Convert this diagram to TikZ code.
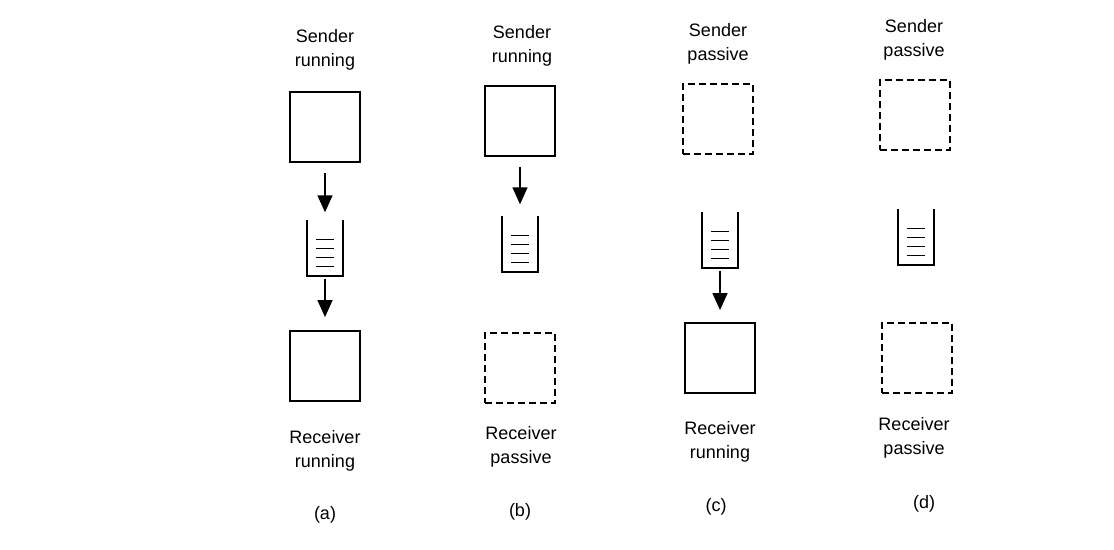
\documentclass[tikz,border=0pt]{standalone}
\usepackage{fontspec}
\setmainfont{Liberation Sans}
\usetikzlibrary{arrows.meta}
\begin{document}
\begin{tikzpicture}[x=1pt,y=-1pt,
  proc/.style={draw, line width=1.8pt, minimum width=70pt, minimum height=70pt, inner sep=0pt},
  passivebox/.style={proc, dash pattern=on 7pt off 4pt},
  qbox/.style={minimum width=36pt, minimum height=55pt, inner sep=0pt},
  flow/.style={line width=1.4pt, -{Triangle[length=17pt,width=15pt]}},
  lbl/.style={align=center, font=\fontsize{18}{24}\selectfont},
  captext/.style={font=\fontsize{18}{20}\selectfont}]
\useasboundingbox (0,0) rectangle (1114,549);
\newcommand{\queuedraw}[1]{%
  \draw[line width=1.7pt] (#1.north west) -- (#1.south west) -- (#1.south east) -- (#1.north east);
  \foreach \dy in {19,28,37,46}
    \draw[line width=1.6pt] ([xshift=9pt,yshift=-\dy pt]#1.north west) -- ([xshift=-9pt,yshift=-\dy pt]#1.north east);}
% (a)
\node[lbl] (sa) at (325,50) {Sender\\running};
\node[proc] (ta) at (325,127) {};
\node[qbox] (qa) at (325,248) {};
\queuedraw{qa}
\node[proc] (ba) at (325,366) {};
\node[lbl] (ra) at (325,451) {Receiver\\running};
\node[captext] (ca) at (325,515) {(a)};
\draw[flow] ([yshift=-10pt]ta.south) -- ([yshift=8pt]qa.north);
\draw[flow] ([yshift=-3pt]qa.south) -- ([yshift=13pt]ba.north);
% (b)
\node[lbl] (sb) at (522,46) {Sender\\running};
\node[proc] (tb) at (520,121) {};
\node[qbox] (qb) at (520,244) {};
\queuedraw{qb}
\node[passivebox] (bb) at (520,368) {};
\node[lbl] (rb) at (521,447) {Receiver\\passive};
\node[captext] (cb) at (520,512) {(b)};
\draw[flow] ([yshift=-10pt]tb.south) -- ([yshift=12pt]qb.north);
% (c)
\node[lbl] (sc) at (718,44) {Sender\\passive};
\node[passivebox] (tc) at (718,119) {};
\node[qbox] (qc) at (720,240) {};
\queuedraw{qc}
\node[proc] (bc) at (720,358) {};
\node[lbl] (rc) at (720,442) {Receiver\\running};
\node[captext] (cc) at (716,507) {(c)};
\draw[flow] ([yshift=-3pt]qc.south) -- ([yshift=12pt]bc.north);
% (d)
\node[lbl] (sd) at (914,40) {Sender\\passive};
\node[passivebox] (td) at (915,115) {};
\node[qbox] (qd) at (916,237) {};
\queuedraw{qd}
\node[passivebox] (bd) at (917,358) {};
\node[lbl] (rd) at (914,438) {Receiver\\passive};
\node[captext] (cd) at (924,504) {(d)};
\end{tikzpicture}
\end{document}
